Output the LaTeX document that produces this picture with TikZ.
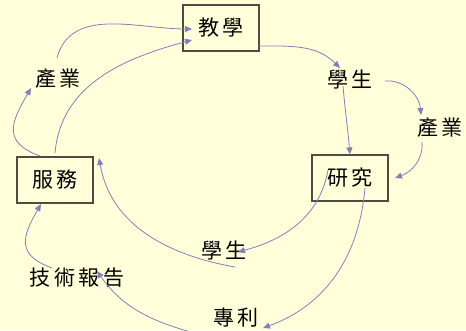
\documentclass[tikz,border=0pt]{standalone}
\usepackage{fontspec}
\usepackage{tikz}
\usetikzlibrary{calc,arrows.meta}
\newfontfamily\cjk[LetterSpace=18]{Noto Sans CJK TC}
\definecolor{paper}{rgb}{1.0, 1.0, 0.85}
\definecolor{flowblue}{rgb}{0.5, 0.5, 0.75}
\definecolor{boxline}{rgb}{0.3, 0.3, 0.25}
\tikzset{
    task/.style={
        draw=boxline,
        line width=1.2pt,
        minimum width=76pt,
        minimum height=46pt,
        font=\cjk\fontsize{21}{21}\selectfont,
    },
    outcome/.style={
        inner sep=1pt,
        font=\cjk\fontsize{21}{21}\selectfont,
    },
    flow/.style={
        draw=flowblue,
        line width=0.8pt,
        -{Triangle[length=7pt,width=6pt]},
    },
}

\begin{document}
\begin{tikzpicture}[x=1pt, y=-1pt]
    % Page, same size as the slide
    \useasboundingbox[fill=paper] (0,0) rectangle (466,330);
    \clip (0,0) rectangle (466,330);

    % The three tasks
    \node[task] (teach) at (221,28) {教學};
    \node[task] (research) at (350,178) {研究};
    \node[task] (service) at (55,180) {服務};

    % What comes out of them
    \node[outcome] (ind1) at (58,79) {產業};
    \node[outcome] (stu1) at (350,79) {學生};
    \node[outcome] (ind2) at (440,128) {產業};
    \node[outcome] (stu2) at (224,250) {學生};
    \node[outcome] (report) at (77,278) {技術報告};
    \node[outcome] (patent) at (236,318) {專利};

    % Service side
    \draw[flow] ($(service.center)+(-15,-24)$) to[out=160, in=-120, looseness=1.5]
      ($(ind1.center)+(-27,9)$);
    \draw[flow] ($(ind1.center)+(-1,-21)$) to[out=75, in=180]
      ($(teach.center)+(-29,1)$);
    \draw[flow] ($(service.center)+(0,-27)$) to[out=85, in=195]
      ($(teach.center)+(-29,12)$);

    % Teaching side
    \draw[flow] ($(teach.center)+(37,18)$) to[out=0, in=135]
      ($(stu1.center)+(-10,-11)$);
    \draw[flow] ($(stu1.center)+(-7,7)$) to[out=-85, in=95]
      (research.north);
    \draw[flow] ($(stu1.center)+(35,2)$) to[out=5, in=95]
      ($(ind2.center)+(-19,-13)$);
    \draw[flow] ($(ind2.center)+(-18,14)$) to[out=-85, in=20]
      ($(research.center)+(45,0)$);

    % Research side
    \draw[flow] ($(research.center)+(-22,-8)$) to[out=-100, in=15]
      ($(stu2.center)+(14,2)$);
    \draw[flow] ($(stu2.center)+(11,17)$) to[out=170, in=-80]
      ($(service.center)+(44,-22)$);
    \draw[flow] ($(research.center)+(15,10)$) to[out=-95, in=20]
      ($(patent.center)+(27,10)$);
    \draw[flow] ($(patent.center)+(-31,18)$) to[out=165, in=-55]
      ($(report.center)+(20,-7)$);
    \draw[flow] ($(report.center)+(-25,-10)$) to[out=160, in=-120, looseness=1.5]
      ($(service.center)+(-14,24)$);
\end{tikzpicture}
\end{document}
